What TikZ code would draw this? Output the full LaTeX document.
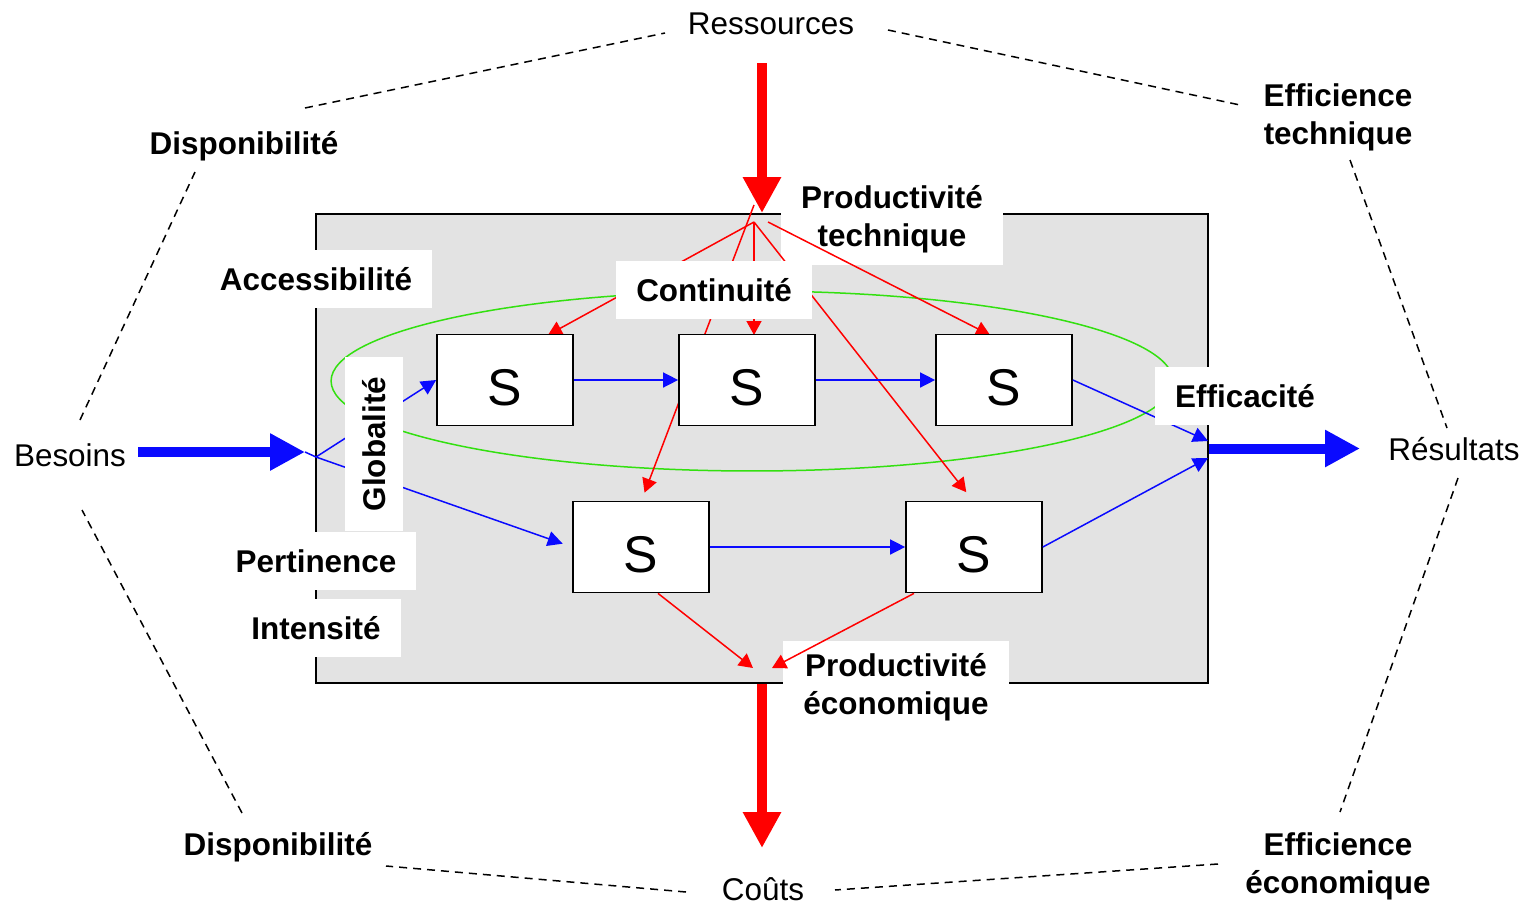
\documentclass[tikz,border=0pt]{standalone}
\usepackage{fontspec}
\setmainfont{Liberation Sans}
\usetikzlibrary{arrows.meta, calc}
\definecolor{flowred}{HTML}{FF0000}
\definecolor{flowblue}{HTML}{0A0AFF}
\definecolor{loopgreen}{HTML}{33E010}
\definecolor{sysgray}{HTML}{E3E3E3}

\tikzset{
  outer/.style={font=\fontsize{17.9pt}{21.6pt}\selectfont, inner sep=0pt, align=center},
  outerb/.style={outer, font=\fontsize{17.9pt}{21.6pt}\selectfont\bfseries},
  tag/.style={font=\fontsize{17.9pt}{21.6pt}\selectfont\bfseries, align=center, fill=white,
    inner xsep=0.4cm, inner ysep=0.2cm, minimum height=1.16cm},
  sbox/.style={draw, fill=white, line width=0.035cm, minimum width=2.72cm, minimum height=1.82cm,
    inner sep=0pt, text height=29pt, text depth=0pt, font=\fontsize{29.4pt}{30pt}\selectfont},
  thinred/.style={draw=flowred, line width=0.03cm, -{Triangle[length=0.28cm, width=0.3cm]}},
  thinblue/.style={draw=flowblue, line width=0.03cm, -{Triangle[length=0.3cm, width=0.3cm]}},
  bigred/.style={draw=flowred, line width=0.2cm, -{Triangle[length=0.72cm, width=0.72cm]}},
  bigblue/.style={draw=flowblue, line width=0.2cm, -{Triangle[length=0.7cm, width=0.7cm]}},
  hexline/.style={dash pattern=on 0.16cm off 0.12cm, line width=0.03cm}
}

\begin{document}
\begin{tikzpicture}[x=0.02cm, y=-0.02cm]
  \useasboundingbox (0,0) rectangle (1531,906);

  % System box
  \node[draw, fill=sysgray, line width=0.04cm, minimum width=17.84cm, minimum height=9.38cm,
        inner sep=0pt] (sys) at (762,448.5) {};
  \node[tag, minimum height=1.84cm] (prodT) at (892,219) {Productivité\\technique};
  \node[tag, minimum height=1.84cm] (prodE) at (896,687) {Productivité\\économique};

  % Loop
  \draw[loopgreen, line width=0.03cm] (752,381) ellipse [x radius=8.42cm, y radius=1.8cm];

  \coordinate (split) at (316,457);
  \coordinate (inTip) at (305,452);
  \coordinate (outA) at (1208,441);
  \coordinate (outB) at (1208,458);
  \coordinate (fanL) at (754,205);
  \coordinate (fanM) at (754,222);
  \coordinate (fanR) at (768,222);
  \coordinate (costA) at (753,668);
  \coordinate (costB) at (772,668);

  % Sub-systems
  \foreach \n/\x/\y in {s1/505/380, s2/747/380, s3/1004/380, s4/641/547, s5/974/547} {
    \path (\x,\y) coordinate (\n-c);
  }

  % Resource fan
  \draw[thinred] (fanM) -- ([xshift=0.86cm]s1-c |- 0,335);
  \draw[thinred] (fanM) -- (fanM |- 0,335);
  \draw[thinred, shorten >=0.2cm] (fanL) -- (s4-c |- 0,502);
  \draw[thinred, shorten >=0.25cm] (fanM) -- (s5-c |- 0,502);
  \draw[thinred] (fanR) -- ([xshift=-0.28cm]s3-c |- 0,335);

  \foreach \n/\x/\y in {s1/505/380, s2/747/380, s3/1004/380, s4/641/547, s5/974/547} {
    \node[sbox] (\n) at (\x,\y) {S};
  }

  % Flows
  \draw[flowblue, line width=0.03cm] (inTip) -- (split);
  \draw[thinblue] (split) -- (s1.west);
  \draw[thinblue, shorten >=0.2cm] (split) -- (s4.west);
  \draw[thinblue] (s1.east) -- (s2.west);
  \draw[thinblue] (s2.east) -- (s3.west);
  \draw[thinblue] (s4.east) -- (s5.west);
  \draw[thinblue] (s3.east) -- (outA);
  \draw[thinblue] (s5.east) -- (outB);
  \draw[thinred] ([xshift=0.34cm]s4.south) -- (costA);
  \draw[thinred] ([xshift=-1.2cm]s5.south) -- (costB);

  % Inputs and outputs
  \draw[bigred] (762,63) -- (sys.north);
  \draw[bigred] (sys.south) -- (762,848);
  \draw[bigblue] (138,452) -- (inTip);
  \draw[bigblue] (sys.east) -- (1360,448.5);

  % Criteria
  \node[tag] (acc) at (316,279) {Accessibilité};
  \node[tag] (cont) at (714,290) {Continuité};
  \node[tag, rotate=90, minimum width=3.48cm] (glob) at (374,444) {Globalité};
  \node[tag] (eff) at (1245,396) {Efficacité};
  \node[tag] (pert) at (316,561) {Pertinence};
  \node[tag] (inte) at (316,628) {Intensité};

  % Outer ring
  \node[outer] (ress) at (771,24) {Ressources};
  \node[outerb] (dispoT) at (244,146) {Disponibilité};
  \node[outerb] (effT) at (1338,117) {Efficience\\technique};
  \node[outer] (bes) at (70,455) {Besoins};
  \node[outer] (res) at (1454,449) {Résultats};
  \node[outerb] (dispoB) at (278,847) {Disponibilité};
  \node[outer] (cout) at (763,889) {Coûts};
  \node[outerb] (effE) at (1338,866) {Efficience\\économique};

  \foreach \xa/\ya/\xb/\yb in {305/108/665/33, 888/30/1240/105, 1350/160/1447/428,
    1458/478/1340/812, 1218/864/835/890, 686/892/386/866, 242/813/82/510, 80/420/195/172} {
    \draw[hexline] (\xa,\ya) -- (\xb,\yb);
  }
\end{tikzpicture}
\end{document}
